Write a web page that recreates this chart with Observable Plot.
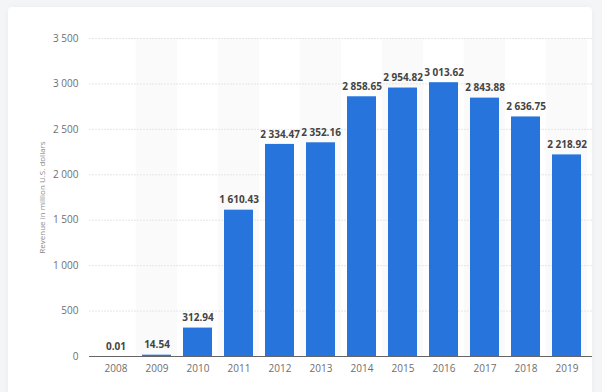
<!DOCTYPE html>
<html>
<head>
<meta charset="utf-8">
<script src="https://cdn.jsdelivr.net/npm/d3@7"></script>
<script src="https://cdn.jsdelivr.net/npm/@observablehq/plot@0.6"></script>
<style>
  html, body { margin: 0; padding: 0; background: #f4f5f7; width: 602px; height: 392px; overflow: hidden; }
  #card { position: absolute; left: 8px; top: 7px; width: 584px; height: 400px; background: #fff; border-radius: 4px; box-shadow: 0 0 6px rgba(0,0,0,0.04); }
  #chart { position: absolute; left: 0; top: 0; }
</style>
</head>
<body>
<div id="card"></div>
<div id="chart"></div>
<script>
const years = ["2008","2009","2010","2011","2012","2013","2014","2015","2016","2017","2018","2019"];
const revenue = [0.01, 14.54, 312.94, 1610.43, 2334.47, 2352.16, 2858.65, 2954.82, 3013.62, 2843.88, 2636.75, 2218.92];
const yTicks = [0, 500, 1000, 1500, 2000, 2500, 3000, 3500];
const shadedYears = ["2009","2011","2013","2015","2017","2019"];

const data = years.map((y, i) => ({year: y, value: revenue[i]}));
const locale = d3.formatLocale({decimal: ".", thousands: " ", grouping: [3], currency: ["", ""]});
const fmtVal = locale.format(",.2f");
const fmtTick = locale.format(",d");

const W = 602, H = 392, mL = 89, mR = 10, mT = 38, mB = 36;
const step = (W - mL - mR) / years.length;
const outer = step * 0.15;
const yMax = yTicks[yTicks.length - 1];

const chart = Plot.plot({
  width: W, height: H,
  marginLeft: mL, marginRight: mR, marginTop: mT, marginBottom: mB,
  style: {background: "transparent", fontFamily: "'Open Sans', sans-serif"},
  x: {domain: years, paddingInner: 0.3, paddingOuter: 0.15, label: null, tickSize: 0, tickPadding: 8},
  y: {domain: [0, yMax], ticks: yTicks, tickFormat: fmtTick, label: null, tickSize: 0, tickPadding: 11},
  marks: [
    Plot.barY(shadedYears, {x: d => d, y1: 0, y2: yMax, fill: "#fafafa", insetLeft: -outer, insetRight: -outer}),
    Plot.gridY(yTicks.filter(t => t > 0), {stroke: "#e6e6e6", strokeOpacity: 1, strokeWidth: 1, strokeDasharray: "2,1"}),
    Plot.barY(data, {x: "year", y: "value", fill: "#2775dc"}),
    Plot.text(data, {x: "year", y: "value", text: d => fmtVal(d.value), dy: -10, fontWeight: "bold", fontSize: 10, fill: "#444"}),
    Plot.ruleY([0], {stroke: "#666", strokeWidth: 1}),
    Plot.axisX({tickSize: 0, tickPadding: 8, fontSize: 10, fill: "#6e6e6e", label: null}),
    Plot.axisY({ticks: yTicks, tickFormat: fmtTick, tickSize: 0, tickPadding: 11, fontSize: 10, fill: "#6e6e6e", label: null}),
    Plot.text(["Revenue in million U.S. dollars"], {frameAnchor: "left", textAnchor: "middle", dx: -47, rotate: -90, fontSize: 8, fill: "#8a8a8a"})
  ]
});
document.getElementById("chart").appendChild(chart);
</script>
</body>
</html>
